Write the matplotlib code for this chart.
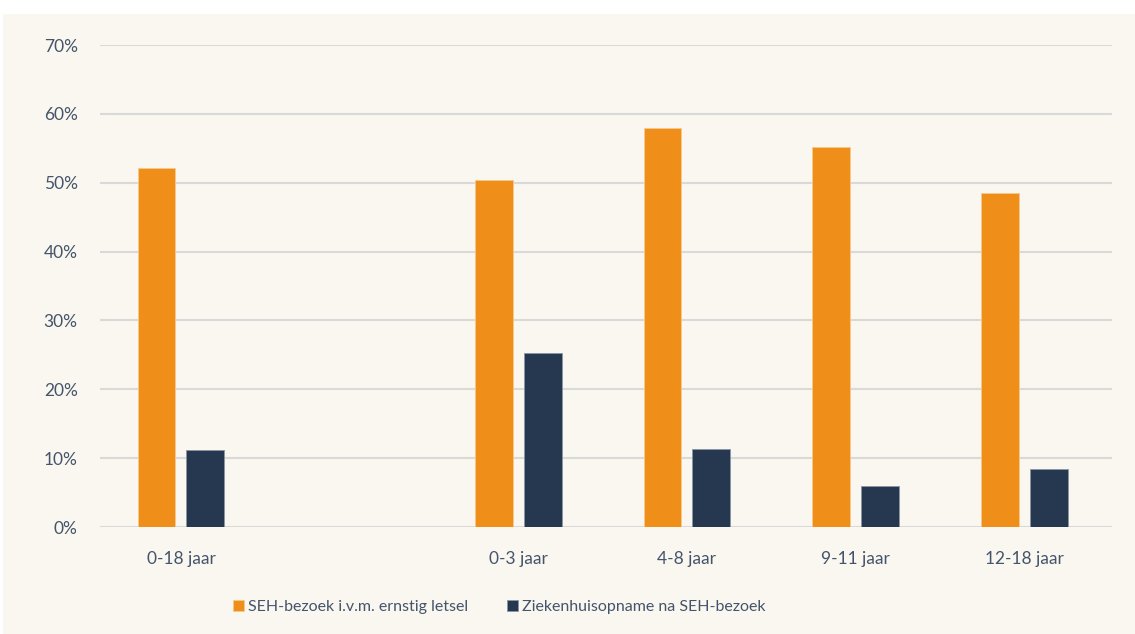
import matplotlib.pyplot as plt
from matplotlib.patches import Rectangle
from matplotlib.ticker import PercentFormatter
import numpy as np

# ========== 数据 ==========
categories = ["0-18 jaar", "", "0-3 jaar", "4-8 jaar", "9-11 jaar", "12-18 jaar"]
seh_bezoek = [0.521, np.nan, 0.504, 0.579, 0.552, 0.485]
opname = [0.112, np.nan, 0.253, 0.113, 0.059, 0.084]
series_labels = ["SEH-bezoek i.v.m. ernstig letsel", "Ziekenhuisopname na SEH-bezoek"]

ORANGE = "#ef8e19"
NAVY = "#25384f"
BG = "#faf7f0"
TEXT = "#44546a"

plt.rcParams['font.family'] = ['Lato', 'DejaVu Sans']

fig = plt.figure(figsize=(11.35, 6.34), dpi=100, facecolor="white")
fig.patches.append(Rectangle((3 / 1135, 0), 1, 1 - 14 / 634, transform=fig.transFigure,
                             facecolor=BG, edgecolor="none", zorder=-1))

ax = fig.add_axes([100 / 1135, 1 - 527 / 634, 1012 / 1135, 482 / 634])
ax.set_facecolor(BG)

x = np.arange(len(categories))
w = 0.225
off = 0.145
ax.bar(x - off, seh_bezoek, w, color=ORANGE, edgecolor="#f6c98c", linewidth=0.6,
       label=series_labels[0], zorder=3)
ax.bar(x + off, opname, w, color=NAVY, edgecolor="#8a96a5", linewidth=0.6,
       label=series_labels[1], zorder=3)

ax.set_xlim(-0.48, len(categories) - 0.48)
ax.set_ylim(0, 0.7)
ax.set_yticks(np.arange(0, 0.71, 0.1))
ax.yaxis.set_major_formatter(PercentFormatter(1.0, decimals=0))
ax.set_xticks(x)
ax.set_xticklabels(categories)
ax.tick_params(axis="both", length=0, labelsize=12.5, colors=TEXT)
ax.tick_params(axis="x", pad=17)
ax.tick_params(axis="y", pad=16)
ax.yaxis.grid(True, color="#d9d9d9", linewidth=1.5, zorder=0)
ax.set_axisbelow(True)
for s in ax.spines.values():
    s.set_visible(False)

leg = fig.legend(loc="center", bbox_to_anchor=(0.44, 0.043), ncol=2, frameon=False,
                 fontsize=11.5, handlelength=0.7, handleheight=0.7, handletextpad=0.25,
                 columnspacing=2.4)
for t in leg.get_texts():
    t.set_color(TEXT)

fig.savefig("out.png", dpi=100, facecolor=fig.get_facecolor())
